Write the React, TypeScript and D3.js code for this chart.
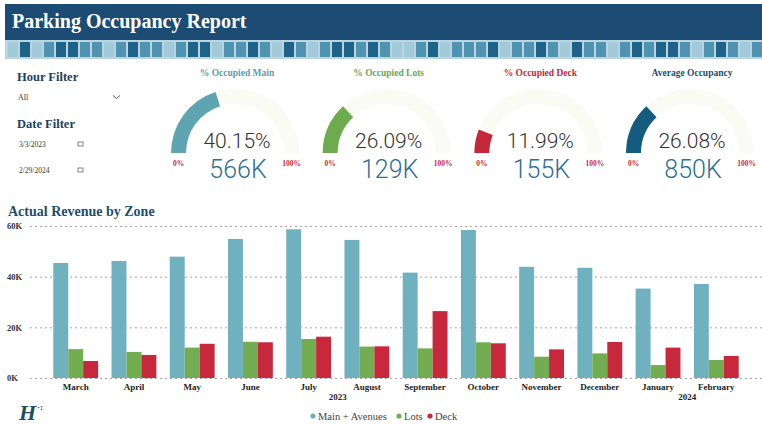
import React from 'react';
import * as d3 from 'd3';

// chart data (revenue in dollars)
const months = ['March', 'April', 'May', 'June', 'July', 'August', 'September', 'October', 'November', 'December', 'January', 'February'];
const mainAvenues = [45400, 46200, 47900, 54900, 58700, 54500, 41600, 58400, 43900, 43500, 35300, 37100];
const lots = [11400, 10300, 12000, 14300, 15400, 12400, 11700, 14100, 8400, 9700, 5100, 7100];
const deck = [6700, 9100, 13500, 14100, 16300, 12500, 26400, 13700, 11300, 14200, 12000, 8700];
const seriesNames = ['Main + Avenues', 'Lots', 'Deck'];
const yTicks = [0, 20000, 40000, 60000];
const yearLabels = ['2023', '2024'];
const yearFirstMonth = ['March', 'January'];
const yearLastMonth = ['December', 'February'];

// gauges
const gaugeTitles = ['% Occupied Main', '% Occupied Lots', '% Occupied Deck', 'Average Occupancy'];
const gaugePercents = [40.15, 26.09, 11.99, 26.08];
const gaugeTotals = ['566K', '129K', '155K', '850K'];

// filters
const hourFilterValue = 'All';
const dateFilterValues = ['3/3/2023', '2/29/2024'];

const seriesColors = ['#70b1bf', '#72ad52', '#c8283b'];
const gaugeColors = ['#5fa5b1', '#6dac4e', '#c4283b', '#135c7d'];
const gaugeTitleColors = ['#5a9ea9', '#6aa84f', '#c0283a', '#1d4e6e'];
const tilePattern = 'LDLMDDMMLMDMMLMDDLMMDMLDMLMDDMDMLLMDLMMMDLMMDMLDMMLMDMDDMLMDMLM';
const tileShades = { L: '#a3cad8', M: '#4f93b0', D: '#1d6387' };

const serif = "'Liberation Serif', 'DejaVu Serif', serif";
const sans = "Roboto, 'Open Sans', sans-serif";

const App = () => {
  const Width = 762;
  const Height = 425;

  // bar chart geometry
  const plotLeft = 30;
  const plotRight = 762;
  const yScale = d3.scaleLinear().domain([0, 60000]).range([378, 226]);
  const xScale = d3.scaleBand().domain(months).range([plotLeft, plotRight]).paddingInner(0.23).paddingOuter(0.4);
  const seriesScale = d3.scaleBand().domain(seriesNames).range([0, xScale.bandwidth()]);
  const seriesValues = [mainAvenues, lots, deck];

  const bars = months.map((m, i) => (
    <g key={m} transform={`translate(${xScale(m)}, 0)`}>
      {seriesNames.map((s, j) => (
        <rect
          key={s}
          x={seriesScale(s)}
          y={yScale(seriesValues[j][i])}
          width={seriesScale.bandwidth()}
          height={yScale(0) - yScale(seriesValues[j][i])}
          fill={seriesColors[j]}
        />
      ))}
    </g>
  ));

  const yAxisRef = (node) => {
    if (!node) return;
    const g = d3.select(node);
    g.call(
      d3.axisLeft(yScale)
        .tickValues(yTicks)
        .tickSize(-(plotRight - plotLeft))
        .tickFormat((d) => `${d / 1000}K`)
    );
    g.attr('font-size', null).attr('font-family', null);
    g.select('.domain').remove();
    g.selectAll('.tick line').attr('stroke', '#a4a4a4').attr('stroke-dasharray', '2,3');
    g.selectAll('.tick text')
      .attr('x', 7 - plotLeft)
      .attr('text-anchor', 'start')
      .attr('fill', '#333')
      .style('font', `bold 8.5px ${serif}`);
  };

  const xAxisRef = (node) => {
    if (!node) return;
    const g = d3.select(node);
    g.call(d3.axisBottom(xScale).tickSize(0).tickPadding(5.5));
    g.attr('font-size', null).attr('font-family', null);
    g.select('.domain').remove();
    g.selectAll('.tick text').attr('fill', '#222').style('font', `bold 9px ${serif}`);
  };

  const years = yearLabels.map((y, i) => {
    const a = xScale(yearFirstMonth[i]) + xScale.bandwidth() / 2;
    const b = xScale(yearLastMonth[i]) + xScale.bandwidth() / 2;
    return (
      <text key={y} x={(a + b) / 2} y={400} textAnchor="middle" fill="#222" style={{ font: `bold 9px ${serif}` }}>
        {y}
      </text>
    );
  });

  // gauges
  const gaugeX = d3.scalePoint().domain(gaugeTitles).range([235, 690]);
  const angle = d3.scaleLinear().domain([0, 100]).range([-Math.PI / 2, Math.PI / 2]);
  const arc = d3.arc().innerRadius(49).outerRadius(64);
  const gaugeY = 153;

  const gauges = gaugeTitles.map((t, i) => {
    const cx = gaugeX(t);
    return (
      <g key={t} transform={`translate(${cx}, 0)`}>
        <text x={2} y={76} textAnchor="middle" fill={gaugeTitleColors[i]} style={{ font: `bold 9.5px ${serif}` }}>
          {t}
        </text>
        <g transform={`translate(0, ${gaugeY})`}>
          <path d={arc({ startAngle: angle(0), endAngle: angle(100) })} fill="#fafbf5" />
          <path d={arc({ startAngle: angle(0), endAngle: angle(gaugePercents[i]) })} fill={gaugeColors[i]} />
        </g>
        <text x={-56.5} y={166} textAnchor="middle" fill="#d2283a" style={{ font: `bold 7.5px ${serif}` }}>0%</text>
        <text x={56.5} y={166} textAnchor="middle" fill="#d2283a" style={{ font: `bold 7.5px ${serif}` }}>100%</text>
        <text x={2} y={148} textAnchor="middle" fill="#333" style={{ fontFamily: sans, fontWeight: 300, fontSize: '21px' }}>
          {`${gaugePercents[i].toFixed(2)}%`}
        </text>
        <text x={3} y={178} textAnchor="middle" fill="#2f6f92" style={{ fontFamily: sans, fontWeight: 300, fontSize: '25px' }}>
          {gaugeTotals[i]}
        </text>
      </g>
    );
  });

  // header tile strip
  const tiles = tilePattern.split('').map((c, i) => (
    <rect key={i} x={8 + i * 12} y={42} width={10} height={15} fill={tileShades[c]} />
  ));

  // legend
  const legendX = [313, 399, 430];
  const legend = seriesNames.map((s, i) => (
    <g key={s} transform={`translate(${legendX[i]}, 416)`}>
      <circle cx={0} cy={0} r={2.6} fill={seriesColors[i]} />
      <text x={5} y={3.5} fill="#444" style={{ font: `10.5px ${serif}` }}>{s}</text>
    </g>
  ));

  return (
    <svg width={Width} height={Height} style={{ position: 'absolute', left: 0, top: 0, display: 'block', background: '#fff' }}>
      {/* header */}
      <rect x={5} y={4} width={757} height={36} fill="#1c4b74" />
      <rect x={5} y={40} width={757} height={19} fill="#b9d6e0" />
      {tiles}
      <text x={12} y={28} fill="#fff" style={{ font: `bold 20px ${serif}` }}>Parking Occupancy Report</text>

      {/* filters */}
      <text x={17} y={81} fill="#1d3f5e" style={{ font: `bold 12.5px ${serif}` }}>Hour Filter</text>
      <text x={18} y={100} fill="#333" style={{ font: `8px ${serif}` }}>{hourFilterValue}</text>
      <path d="M113,95.5 L116.5,98.5 L120,95.5" fill="none" stroke="#555" strokeWidth={1} />
      <text x={17} y={128} fill="#1d3f5e" style={{ font: `bold 12.5px ${serif}` }}>Date Filter</text>
      {dateFilterValues.map((d, i) => (
        <g key={d}>
          <text x={19} y={147 + i * 26} fill="#333" style={{ font: `7.5px ${serif}` }}>{d}</text>
          <rect x={78} y={142 + i * 26} width={5} height={4} fill="none" stroke="#666" strokeWidth={0.8} />
        </g>
      ))}

      {gauges}

      {/* bar chart */}
      <text x={8} y={216} fill="#1d4e6e" style={{ font: `bold 14px ${serif}` }}>Actual Revenue by Zone</text>
      <g ref={yAxisRef} transform={`translate(${plotLeft}, 0)`} />
      {bars}
      <g ref={xAxisRef} transform={`translate(0, ${yScale(0)})`} />
      {years}
      {legend}

      {/* logo */}
      <text x={19} y={420} fill="#1f4f5c" style={{ font: `bold italic 22px ${serif}` }}>H</text>
      <text x={37} y={410} fill="#1f4f5c" style={{ font: `bold 9px ${serif}` }}>·:</text>
    </svg>
  );
};

export default App;
